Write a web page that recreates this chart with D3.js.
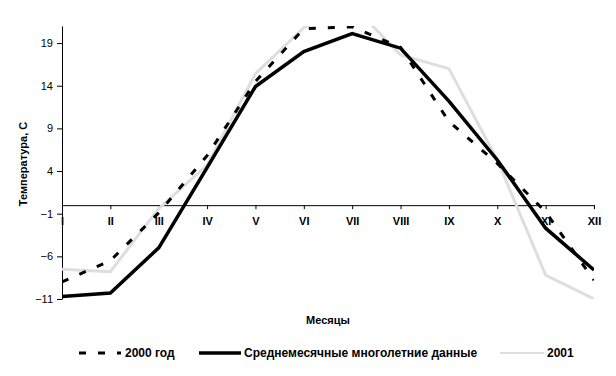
<!DOCTYPE html>
<html>
<head>
<meta charset="utf-8">
<script src="https://cdn.jsdelivr.net/npm/d3@7"></script>
<style>
  body { margin: 0; background: #fff; }
  text { font-family: "Liberation Sans", Arial, sans-serif; }
  .ytick text { font-size: 11px; }
  .xtick text { font-size: 11px; font-weight: bold; }
  .label { font-size: 11px; font-weight: bold; }
  .legend-text { font-size: 12px; font-weight: bold; }
</style>
</head>
<body>
<div id="chart"></div>
<script>
// Months (roman numerals)
const months = ['I', 'II', 'III', 'IV', 'V', 'VI', 'VII', 'VIII', 'IX', 'X', 'XI', 'XII'];

// Temperatures, C
const avgTemp = [-10.7, -10.3, -5.0, 4.4, 13.9, 18.0, 20.1, 18.4, 12.2, 5.3, -2.7, -7.6];
const temp2000 = [-9.0, -6.5, -0.9, 5.8, 14.5, 20.7, 20.9, 18.5, 9.8, 4.9, -0.8, -8.8];
const temp2001 = [-7.5, -7.8, -0.4, 4.7, 15.4, 20.8, 23.5, 17.6, 16.0, 5.3, -8.2, -11.0];

const yTicks = [-11, -6, -1, 4, 9, 14, 19];

const width = 616;
const height = 376;
const margin = { top: 26, right: 22, bottom: 77, left: 62 };

const svg = d3.select('#chart').append('svg')
  .attr('width', width)
  .attr('height', height);

// Scales
const x = d3.scalePoint()
  .domain(months)
  .range([margin.left, width - margin.right]);
const y = d3.scaleLinear()
  .domain([-11, 21])
  .range([height - margin.bottom, margin.top]);

// Clip lines to plot area
svg.append('clipPath')
  .attr('id', 'plot-clip')
  .append('rect')
  .attr('x', margin.left)
  .attr('y', margin.top)
  .attr('width', width - margin.left - margin.right)
  .attr('height', height - margin.top - margin.bottom);

// Y axis
const yAxis = svg.append('g')
  .attr('class', 'ytick')
  .attr('transform', `translate(${margin.left},0)`)
  .call(d3.axisLeft(y).tickValues(yTicks).tickSize(5).tickSizeOuter(0).tickPadding(4));
yAxis.selectAll('path, line').attr('stroke', '#000');
yAxis.selectAll('text').attr('fill', '#000');

// X axis crosses at 0
const xAxis = svg.append('g')
  .attr('class', 'xtick')
  .attr('transform', `translate(0,${y(0)})`)
  .call(d3.axisBottom(x).tickSize(4).tickSizeOuter(0).tickPadding(8));
xAxis.selectAll('path, line').attr('stroke', '#000');
xAxis.selectAll('text').attr('fill', '#000');

// Series lines
const line = d3.line()
  .x((d, i) => x(months[i]))
  .y(d => y(d));

const lines = svg.append('g').attr('clip-path', 'url(#plot-clip)');

lines.append('path')
  .attr('d', line(temp2001))
  .attr('fill', 'none')
  .attr('stroke', '#dedede')
  .attr('stroke-width', 3);

lines.append('path')
  .attr('d', line(avgTemp))
  .attr('fill', 'none')
  .attr('stroke', '#000')
  .attr('stroke-width', 3.5);

lines.append('path')
  .attr('d', line(temp2000))
  .attr('fill', 'none')
  .attr('stroke', '#000')
  .attr('stroke-width', 3)
  .attr('stroke-dasharray', '7,12');

// Axis labels
svg.append('text')
  .attr('class', 'label')
  .attr('x', 328)
  .attr('y', 324)
  .attr('text-anchor', 'middle')
  .text('Месяцы');
svg.append('text')
  .attr('class', 'label')
  .attr('transform', 'translate(27,164) rotate(-90)')
  .attr('text-anchor', 'middle')
  .text('Температура, С');

// Legend
const legendItems = [
  { name: '2000 год', x1: 79, x2: 121, tx: 125, color: '#000', w: 3, dash: '7,12' },
  { name: 'Среднемесячные многолетние данные', x1: 199, x2: 241, tx: 244, color: '#000', w: 3.5, dash: null },
  { name: '2001', x1: 500, x2: 544, tx: 547, color: '#dedede', w: 2, dash: null }
];
const legendY = 353;

const legend = svg.append('g');
legend.selectAll('line')
  .data(legendItems)
  .join('line')
  .attr('x1', d => d.x1)
  .attr('x2', d => d.x2)
  .attr('y1', legendY)
  .attr('y2', legendY)
  .attr('stroke', d => d.color)
  .attr('stroke-width', d => d.w)
  .attr('stroke-dasharray', d => d.dash);
legend.selectAll('text')
  .data(legendItems)
  .join('text')
  .attr('class', 'legend-text')
  .attr('x', d => d.tx)
  .attr('y', legendY + 4)
  .text(d => d.name);
</script>
</body>
</html>
